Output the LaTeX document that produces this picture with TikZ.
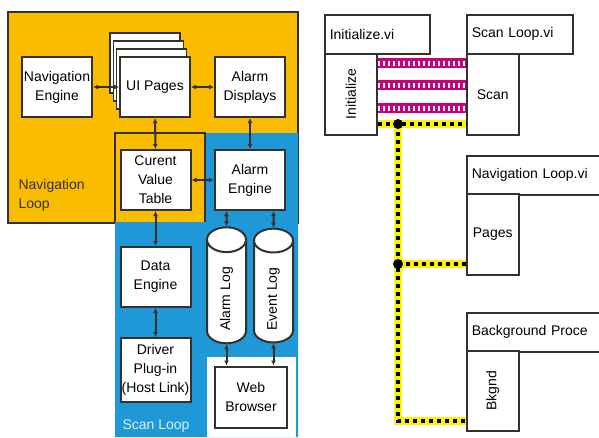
\documentclass[tikz,border=0pt]{standalone}
\usepackage{fontspec}
\setmainfont{Liberation Sans}
\usetikzlibrary{shapes.geometric,arrows.meta}
\definecolor{navyellow}{RGB}{250,188,0}
\definecolor{scanblue}{RGB}{30,152,214}
\definecolor{buspink}{RGB}{200,0,125}
\definecolor{edge}{RGB}{52,48,42}
\begin{document}
\begin{tikzpicture}[
  x=1pt, y=-1pt,
  font=\fontsize{14}{19}\selectfont,
  box/.style={draw=edge, line width=2pt, fill=white, align=center, inner sep=0pt, minimum width=70, minimum height=60},
  page/.style={draw=edge, line width=1.2pt, fill=white, minimum width=70, minimum height=60},
  log/.style={cylinder, shape border rotate=90, draw=edge, line width=2pt, fill=white, minimum width=39, minimum height=103, aspect=1.9, inner sep=0pt},
  arrow/.style={{Latex[length=5pt,width=5pt]}-{Latex[length=5pt,width=5pt]}, line width=2pt, edge},
  vihead/.style={draw=edge, line width=1.5pt, fill=white, anchor=north west, inner xsep=5pt, minimum height=39, text width=#1, align=left},
  vibody/.style={draw=edge, line width=1.5pt, fill=white, anchor=north west, minimum width=52, minimum height=81},
  bus/.style={line width=10pt, buspink, postaction={draw, white, line width=5pt, dash pattern=on 2pt off 3pt}},
  wire/.style={line width=4pt, black, dash pattern=on 4pt off 4pt, preaction={draw, yellow, solid, line width=7.5pt}},
  joint/.style={circle, fill=black, inner sep=0pt, minimum size=10}
]
\clip (0,0) rectangle (599,437);
\fill[white] (0,0) rectangle (599,437);
\draw[edge, line width=2pt, fill=navyellow] (8,12) rectangle (298,223);
\fill[scanblue] (205,133) -- (298,133) -- (298,437) -- (115,437) -- (115,222) -- (205,222) -- cycle;
\draw[edge, line width=1.3pt] (115,222) -- (115,133) -- (205,133) -- (205,222);
\fill[white] (207,357) rectangle (296,437);
\node[anchor=north west, align=left, text=edge] (navlabel) at (15,176) {Navigation\\Loop};
\node[anchor=west, text=white!85!scanblue] (scanlabel) at (119,426) {Scan Loop};
\node[box] (naveng) at (57,87) {Navigation\\Engine};
\node[page] (uipagesA) at (145,63) {};
\node[page] (uipagesB) at (148.3,71) {};
\node[page] (uipagesC) at (151.7,79) {};
\node[box] (uipages) at (155,87) {UI Pages};
\node[box] (alarmdisp) at (250,87) {Alarm\\Displays};
\node[box] (cvt) at (155.5,180) {Curent\\Value\\Table};
\node[box] (alarmeng) at (250,180) {Alarm\\Engine};
\node[box] (dataeng) at (155.5,277) {Data\\Engine};
\node[box, minimum height=64] (driver) at (155.5,370) {Driver\\Plug-in\\(Host Link)};
\node[log] (alarmlog) at (226.5,292) {\rotatebox{90}{Alarm Log\hspace{14pt}}};
\node[log] (eventlog) at (273.5,292) {\rotatebox{90}{Event Log\hspace{14pt}}};
\node[box, minimum width=72, minimum height=61] (browser) at (251,397) {Web\\Browser};
\draw[arrow] (naveng) -- (uipages);
\draw[arrow] (uipages) -- (alarmdisp);
\draw[arrow] (uipages) -- (cvt);
\draw[arrow] (alarmdisp) -- (alarmeng);
\draw[arrow] (cvt) -- (alarmeng);
\draw[arrow] (cvt) -- (dataeng);
\draw[arrow] (dataeng) -- (driver);
\draw[arrow] (alarmlog |- alarmeng.south) -- (alarmlog);
\draw[arrow] (eventlog |- alarmeng.south) -- (eventlog);
\draw[arrow] (alarmlog) -- (alarmlog |- browser.north);
\draw[arrow] (eventlog) -- (eventlog |- browser.north);
\node[vihead=95] (inithead) at (324,14) {Initialize.vi};
\node[vibody] (initbody) at (324,53) {\rotatebox{90}{Initialize}};
\node[vihead=96] (scanhead) at (466,14) {Scan Loop.vi};
\node[vibody] (scanbody) at (466,53) {Scan};
\node[vihead=170] (navhead) at (466,155) {Navigation Loop.vi};
\node[vibody] (pagesbody) at (466,193) {Pages};
\node[vihead=170] (bghead) at (466,312) {Background Proce};
\node[vibody, minimum height=80] (bkgndbody) at (466,350) {\rotatebox{90}{Bkgnd}};
\coordinate (bus1) at (398,63);
\coordinate (bus2) at (398,85);
\coordinate (bus3) at (398,108);
\coordinate (j1) at (398,124);
\coordinate (j2) at (398,264);
\coordinate (j3) at (398,421);
\draw[bus] (bus1 -| initbody.east) -- (bus1 -| scanbody.west);
\draw[bus] (bus2 -| initbody.east) -- (bus2 -| scanbody.west);
\draw[bus] (bus3 -| initbody.east) -- (bus3 -| scanbody.west);
\draw[wire] (j1 -| initbody.east) -- (j1 -| scanbody.west);
\draw[wire] (j1) -- (j3) -- (j3 -| bkgndbody.west);
\draw[wire] (j2) -- (j2 -| pagesbody.west);
\node[joint] (joint1) at (j1) {};
\node[joint] (joint2) at (j2) {};
\end{tikzpicture}
\end{document}
